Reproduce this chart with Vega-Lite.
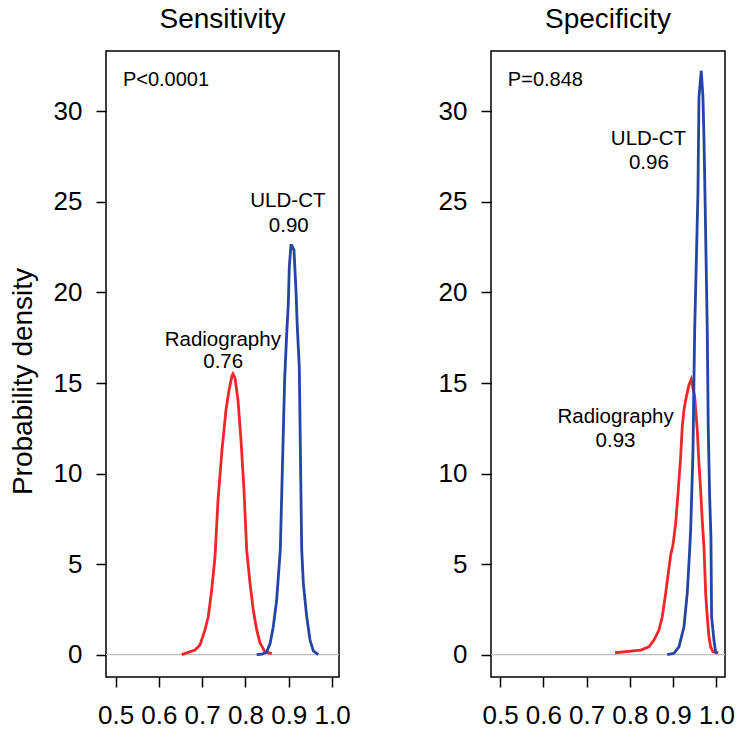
{
  "$schema": "https://vega.github.io/schema/vega-lite/v6.json",
  "padding": {"left": 8, "top": 5, "right": 5, "bottom": 5},
  "spacing": 86,
  "config": {
    "font": "Liberation Sans",
    "view": {"stroke": "#000", "strokeWidth": 1.5},
    "axis": {"domain": false, "grid": false, "tickColor": "#000", "tickWidth": 1.5, "tickSize": 10,
      "labelFont": "Liberation Sans", "labelFontSize": 26, "labelColor": "#000",
      "titleFont": "Liberation Sans", "titleFontSize": 28, "titleFontWeight": "normal", "titleColor": "#000"},
    "title": {"font": "Liberation Sans", "fontSize": 28, "fontWeight": "normal", "color": "#000", "offset": 17}
  },
  "datasets": {
    "curves": [
      {"panel": "Sensitivity", "test": "Radiography", "x": 0.6528, "d": 0},
      {"panel": "Sensitivity", "test": "Radiography", "x": 0.6835, "d": 0.25},
      {"panel": "Sensitivity", "test": "Radiography", "x": 0.695, "d": 0.53},
      {"panel": "Sensitivity", "test": "Radiography", "x": 0.7066, "d": 1.36},
      {"panel": "Sensitivity", "test": "Radiography", "x": 0.7142, "d": 2.1},
      {"panel": "Sensitivity", "test": "Radiography", "x": 0.722, "d": 3.56},
      {"panel": "Sensitivity", "test": "Radiography", "x": 0.7297, "d": 5.4},
      {"panel": "Sensitivity", "test": "Radiography", "x": 0.7366, "d": 8.5},
      {"panel": "Sensitivity", "test": "Radiography", "x": 0.7458, "d": 11.3},
      {"panel": "Sensitivity", "test": "Radiography", "x": 0.755, "d": 13.5},
      {"panel": "Sensitivity", "test": "Radiography", "x": 0.762, "d": 14.6},
      {"panel": "Sensitivity", "test": "Radiography", "x": 0.769, "d": 15.4},
      {"panel": "Sensitivity", "test": "Radiography", "x": 0.7712, "d": 15.5},
      {"panel": "Sensitivity", "test": "Radiography", "x": 0.7759, "d": 15.27},
      {"panel": "Sensitivity", "test": "Radiography", "x": 0.7828, "d": 14.06},
      {"panel": "Sensitivity", "test": "Radiography", "x": 0.7897, "d": 11.85},
      {"panel": "Sensitivity", "test": "Radiography", "x": 0.7966, "d": 9.1},
      {"panel": "Sensitivity", "test": "Radiography", "x": 0.8029, "d": 5.77},
      {"panel": "Sensitivity", "test": "Radiography", "x": 0.8105, "d": 3.95},
      {"panel": "Sensitivity", "test": "Radiography", "x": 0.8181, "d": 2.46},
      {"panel": "Sensitivity", "test": "Radiography", "x": 0.826, "d": 1.36},
      {"panel": "Sensitivity", "test": "Radiography", "x": 0.8336, "d": 0.64},
      {"panel": "Sensitivity", "test": "Radiography", "x": 0.8451, "d": 0.15},
      {"panel": "Sensitivity", "test": "Radiography", "x": 0.8606, "d": 0.05},

      {"panel": "Sensitivity", "test": "ULD-CT", "x": 0.826, "d": 0},
      {"panel": "Sensitivity", "test": "ULD-CT", "x": 0.838, "d": 0.02},
      {"panel": "Sensitivity", "test": "ULD-CT", "x": 0.849, "d": 0.14},
      {"panel": "Sensitivity", "test": "ULD-CT", "x": 0.857, "d": 0.62},
      {"panel": "Sensitivity", "test": "ULD-CT", "x": 0.864, "d": 1.5},
      {"panel": "Sensitivity", "test": "ULD-CT", "x": 0.872, "d": 3.0},
      {"panel": "Sensitivity", "test": "ULD-CT", "x": 0.8805, "d": 5.8},
      {"panel": "Sensitivity", "test": "ULD-CT", "x": 0.8855, "d": 10.5},
      {"panel": "Sensitivity", "test": "ULD-CT", "x": 0.8905, "d": 15.2},
      {"panel": "Sensitivity", "test": "ULD-CT", "x": 0.8952, "d": 17.7},
      {"panel": "Sensitivity", "test": "ULD-CT", "x": 0.899, "d": 19.4},
      {"panel": "Sensitivity", "test": "ULD-CT", "x": 0.9012, "d": 21.4},
      {"panel": "Sensitivity", "test": "ULD-CT", "x": 0.905, "d": 22.6},
      {"panel": "Sensitivity", "test": "ULD-CT", "x": 0.9068, "d": 22.6},
      {"panel": "Sensitivity", "test": "ULD-CT", "x": 0.912, "d": 22.35},
      {"panel": "Sensitivity", "test": "ULD-CT", "x": 0.9167, "d": 20.1},
      {"panel": "Sensitivity", "test": "ULD-CT", "x": 0.9197, "d": 18.1},
      {"panel": "Sensitivity", "test": "ULD-CT", "x": 0.9243, "d": 15.9},
      {"panel": "Sensitivity", "test": "ULD-CT", "x": 0.927, "d": 11.0},
      {"panel": "Sensitivity", "test": "ULD-CT", "x": 0.9299, "d": 5.8},
      {"panel": "Sensitivity", "test": "ULD-CT", "x": 0.9336, "d": 3.95},
      {"panel": "Sensitivity", "test": "ULD-CT", "x": 0.9414, "d": 2.1},
      {"panel": "Sensitivity", "test": "ULD-CT", "x": 0.9491, "d": 0.8},
      {"panel": "Sensitivity", "test": "ULD-CT", "x": 0.9567, "d": 0.2},
      {"panel": "Sensitivity", "test": "ULD-CT", "x": 0.9682, "d": 0},

      {"panel": "Specificity", "test": "Radiography", "x": 0.7657, "d": 0.1},
      {"panel": "Specificity", "test": "Radiography", "x": 0.825, "d": 0.25},
      {"panel": "Specificity", "test": "Radiography", "x": 0.8442, "d": 0.43},
      {"panel": "Specificity", "test": "Radiography", "x": 0.8558, "d": 0.8},
      {"panel": "Specificity", "test": "Radiography", "x": 0.8673, "d": 1.35},
      {"panel": "Specificity", "test": "Radiography", "x": 0.875, "d": 2.09},
      {"panel": "Specificity", "test": "Radiography", "x": 0.8828, "d": 3.38},
      {"panel": "Specificity", "test": "Radiography", "x": 0.8944, "d": 5.5},
      {"panel": "Specificity", "test": "Radiography", "x": 0.8997, "d": 6.05},
      {"panel": "Specificity", "test": "Radiography", "x": 0.906, "d": 7.25},
      {"panel": "Specificity", "test": "Radiography", "x": 0.912, "d": 9.09},
      {"panel": "Specificity", "test": "Radiography", "x": 0.9175, "d": 10.93},
      {"panel": "Specificity", "test": "Radiography", "x": 0.9212, "d": 12.58},
      {"panel": "Specificity", "test": "Radiography", "x": 0.9251, "d": 13.51},
      {"panel": "Specificity", "test": "Radiography", "x": 0.9291, "d": 14.06},
      {"panel": "Specificity", "test": "Radiography", "x": 0.9367, "d": 14.89},
      {"panel": "Specificity", "test": "Radiography", "x": 0.942, "d": 15.2},
      {"panel": "Specificity", "test": "Radiography", "x": 0.9499, "d": 14.24},
      {"panel": "Specificity", "test": "Radiography", "x": 0.9559, "d": 12.4},
      {"panel": "Specificity", "test": "Radiography", "x": 0.9598, "d": 10.56},
      {"panel": "Specificity", "test": "Radiography", "x": 0.9637, "d": 9.09},
      {"panel": "Specificity", "test": "Radiography", "x": 0.9674, "d": 7.43},
      {"panel": "Specificity", "test": "Radiography", "x": 0.9714, "d": 5.95},
      {"panel": "Specificity", "test": "Radiography", "x": 0.9753, "d": 3.38},
      {"panel": "Specificity", "test": "Radiography", "x": 0.979, "d": 2.09},
      {"panel": "Specificity", "test": "Radiography", "x": 0.9829, "d": 0.98},
      {"panel": "Specificity", "test": "Radiography", "x": 0.9868, "d": 0.43},
      {"panel": "Specificity", "test": "Radiography", "x": 0.9921, "d": 0.15},
      {"panel": "Specificity", "test": "Radiography", "x": 1.0044, "d": 0.1},

      {"panel": "Specificity", "test": "ULD-CT", "x": 0.8865, "d": 0},
      {"panel": "Specificity", "test": "ULD-CT", "x": 0.902, "d": 0.07},
      {"panel": "Specificity", "test": "ULD-CT", "x": 0.9136, "d": 0.43},
      {"panel": "Specificity", "test": "ULD-CT", "x": 0.9251, "d": 1.53},
      {"panel": "Specificity", "test": "ULD-CT", "x": 0.9328, "d": 3.4},
      {"panel": "Specificity", "test": "ULD-CT", "x": 0.9383, "d": 5.77},
      {"panel": "Specificity", "test": "ULD-CT", "x": 0.9406, "d": 6.88},
      {"panel": "Specificity", "test": "ULD-CT", "x": 0.9429, "d": 8.72},
      {"panel": "Specificity", "test": "ULD-CT", "x": 0.9459, "d": 11.13},
      {"panel": "Specificity", "test": "ULD-CT", "x": 0.9482, "d": 15.16},
      {"panel": "Specificity", "test": "ULD-CT", "x": 0.9499, "d": 17.9},
      {"panel": "Specificity", "test": "ULD-CT", "x": 0.9575, "d": 25.6},
      {"panel": "Specificity", "test": "ULD-CT", "x": 0.9598, "d": 30.8},
      {"panel": "Specificity", "test": "ULD-CT", "x": 0.9651, "d": 32.25},
      {"panel": "Specificity", "test": "ULD-CT", "x": 0.969, "d": 30.8},
      {"panel": "Specificity", "test": "ULD-CT", "x": 0.9713, "d": 28.6},
      {"panel": "Specificity", "test": "ULD-CT", "x": 0.9736, "d": 25.6},
      {"panel": "Specificity", "test": "ULD-CT", "x": 0.979, "d": 17.9},
      {"panel": "Specificity", "test": "ULD-CT", "x": 0.9813, "d": 12.5},
      {"panel": "Specificity", "test": "ULD-CT", "x": 0.9845, "d": 8.72},
      {"panel": "Specificity", "test": "ULD-CT", "x": 0.9875, "d": 6.5},
      {"panel": "Specificity", "test": "ULD-CT", "x": 0.989, "d": 2.1},
      {"panel": "Specificity", "test": "ULD-CT", "x": 0.9944, "d": 0.8},
      {"panel": "Specificity", "test": "ULD-CT", "x": 0.9983, "d": 0.15},
      {"panel": "Specificity", "test": "ULD-CT", "x": 1.002, "d": 0.05}
    ],
    "labels": [
      {"panel": "Sensitivity", "kind": "p", "x": 0.517, "y": 31.41, "t": "P<0.0001"},
      {"panel": "Sensitivity", "kind": "c", "x": 0.898, "y": 24.74, "t": "ULD-CT"},
      {"panel": "Sensitivity", "kind": "c", "x": 0.9, "y": 23.32, "t": "0.90"},
      {"panel": "Sensitivity", "kind": "c", "x": 0.7477, "y": 17.06, "t": "Radiography"},
      {"panel": "Sensitivity", "kind": "c", "x": 0.7486, "y": 15.81, "t": "0.76"},
      {"panel": "Specificity", "kind": "p", "x": 0.518, "y": 31.41, "t": "P=0.848"},
      {"panel": "Specificity", "kind": "c", "x": 0.843, "y": 28.15, "t": "ULD-CT"},
      {"panel": "Specificity", "kind": "c", "x": 0.844, "y": 26.82, "t": "0.96"},
      {"panel": "Specificity", "kind": "c", "x": 0.767, "y": 12.77, "t": "Radiography"},
      {"panel": "Specificity", "kind": "c", "x": 0.767, "y": 11.44, "t": "0.93"}
    ]
  },
  "hconcat": [
    {
      "title": "Sensitivity",
      "width": 233,
      "height": 626,
      "layer": [
        {
          "data": {"values": [{"z": 0}]},
          "mark": {"type": "rule", "color": "#bdbdbd", "strokeWidth": 1.3},
          "encoding": {"y": {"field": "z", "type": "quantitative", "scale": {"domain": [-1.24, 33.34], "nice": false, "zero": false}}}
        },
        {
          "data": {"name": "curves"},
          "transform": [{"filter": "datum.panel === 'Sensitivity'"}],
          "mark": {"type": "line", "strokeWidth": 2.8},
          "encoding": {
            "x": {"field": "x", "type": "quantitative", "scale": {"domain": [0.478, 1.016], "nice": false, "zero": false},
              "axis": {"values": [0.5, 0.6, 0.7, 0.8, 0.9, 1.0], "format": ".1f", "title": null, "labelPadding": 15, "labelFlush": false}},
            "y": {"field": "d", "type": "quantitative", "scale": {"domain": [-1.24, 33.34], "nice": false, "zero": false},
              "axis": {"values": [0, 5, 10, 15, 20, 25, 30], "title": "Probability density", "labelPadding": 14, "titlePadding": 16, "titleY": 330}},
            "color": {"field": "test", "type": "nominal", "scale": {"domain": ["Radiography", "ULD-CT"], "range": ["#f0262a", "#2445a6"]}, "legend": null}
          }
        },
        {
          "data": {"name": "labels"},
          "transform": [{"filter": "datum.panel === 'Sensitivity' && datum.kind === 'c'"}],
          "mark": {"type": "text", "fontSize": 20.5, "align": "center", "baseline": "alphabetic", "color": "#000"},
          "encoding": {
            "x": {"field": "x", "type": "quantitative"},
            "y": {"field": "y", "type": "quantitative"},
            "text": {"field": "t"}
          }
        },
        {
          "data": {"name": "labels"},
          "transform": [{"filter": "datum.panel === 'Sensitivity' && datum.kind === 'p'"}],
          "mark": {"type": "text", "fontSize": 20, "align": "left", "baseline": "alphabetic", "color": "#000"},
          "encoding": {
            "x": {"field": "x", "type": "quantitative"},
            "y": {"field": "y", "type": "quantitative"},
            "text": {"field": "t"}
          }
        }
      ]
    },
    {
      "title": "Specificity",
      "width": 234,
      "height": 626,
      "layer": [
        {
          "data": {"values": [{"z": 0}]},
          "mark": {"type": "rule", "color": "#bdbdbd", "strokeWidth": 1.3},
          "encoding": {"y": {"field": "z", "type": "quantitative", "scale": {"domain": [-1.24, 33.34], "nice": false, "zero": false}}}
        },
        {
          "data": {"name": "curves"},
          "transform": [{"filter": "datum.panel === 'Specificity'"}],
          "mark": {"type": "line", "strokeWidth": 2.8},
          "encoding": {
            "x": {"field": "x", "type": "quantitative", "scale": {"domain": [0.479, 1.02], "nice": false, "zero": false},
              "axis": {"values": [0.5, 0.6, 0.7, 0.8, 0.9, 1.0], "format": ".1f", "title": null, "labelPadding": 15, "labelFlush": false}},
            "y": {"field": "d", "type": "quantitative", "scale": {"domain": [-1.24, 33.34], "nice": false, "zero": false},
              "axis": {"values": [0, 5, 10, 15, 20, 25, 30], "title": null, "labelPadding": 14}},
            "color": {"field": "test", "type": "nominal", "scale": {"domain": ["Radiography", "ULD-CT"], "range": ["#f0262a", "#2445a6"]}, "legend": null}
          }
        },
        {
          "data": {"name": "labels"},
          "transform": [{"filter": "datum.panel === 'Specificity' && datum.kind === 'c'"}],
          "mark": {"type": "text", "fontSize": 20.5, "align": "center", "baseline": "alphabetic", "color": "#000"},
          "encoding": {
            "x": {"field": "x", "type": "quantitative"},
            "y": {"field": "y", "type": "quantitative"},
            "text": {"field": "t"}
          }
        },
        {
          "data": {"name": "labels"},
          "transform": [{"filter": "datum.panel === 'Specificity' && datum.kind === 'p'"}],
          "mark": {"type": "text", "fontSize": 20, "align": "left", "baseline": "alphabetic", "color": "#000"},
          "encoding": {
            "x": {"field": "x", "type": "quantitative"},
            "y": {"field": "y", "type": "quantitative"},
            "text": {"field": "t"}
          }
        }
      ]
    }
  ]
}
